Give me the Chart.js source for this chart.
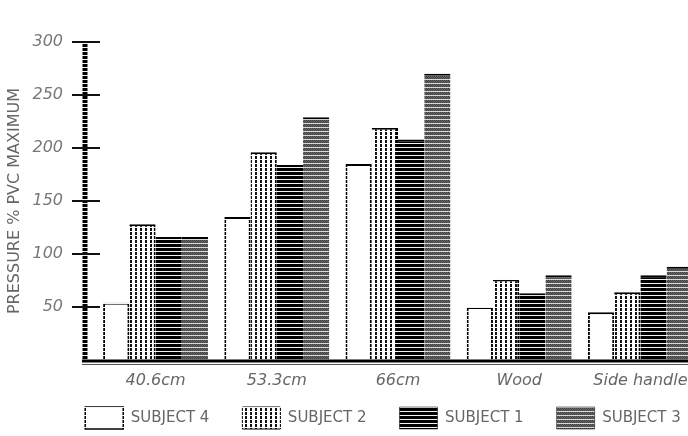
<!DOCTYPE html>
<html>
<head>
<meta charset="utf-8">
<script src="https://cdn.jsdelivr.net/npm/chart.js@4.4.1/dist/chart.umd.min.js"></script>
<style>
html, body { margin: 0; padding: 0; background: #fff; overflow: hidden; width: 688px; height: 436px; }
canvas { display: block; }
</style>
</head>
<body>
<canvas id="grafico" width="766" height="436"></canvas>
<script>
// datos
const categorias = ['40.6cm', '53.3cm', '66cm', 'Wood', 'Side handle'];
const subject4 = [54, 135, 185, 50, 45];
const subject2 = [128, 196, 219, 76, 64];
const subject1 = [116, 184, 208, 63, 80];
const subject3 = [116, 229, 270, 80, 88];
const ticksY = [0, 50, 100, 150, 200, 250, 300];

const ctxPrincipal = document.getElementById('grafico').getContext('2d');

// texturas tipo escaneo (líneas horizontales blancas cada 4px)
function patron(w, h, dibujar) {
    const c = document.createElement('canvas');
    c.width = w; c.height = h;
    dibujar(c.getContext('2d'));
    return ctxPrincipal.createPattern(c, 'repeat');
}

const rayasNegro = patron(1, 4, g => {
    g.fillStyle = '#000'; g.fillRect(0, 0, 1, 3);
    g.fillStyle = '#f2f2f2'; g.fillRect(0, 3, 1, 1);
});

const rayasVerticales = patron(5, 4, g => {
    g.fillStyle = '#fff'; g.fillRect(0, 0, 5, 4);
    g.fillStyle = '#111'; g.fillRect(0, 0, 2, 3);
});

const rayasGris = patron(2, 4, g => {
    const filas = [['#3c3c3c', '#6a6a6a'], ['#666', '#404040'], ['#4a4a4a', '#5e5e5e'], ['#cfcfcf', '#e0e0e0']];
    filas.forEach((f, i) => f.forEach((col, j) => { g.fillStyle = col; g.fillRect(j, i, 1, 1); }));
});

// eje vertical grueso, marcas y línea base
const ejes = {
    id: 'ejes',
    afterDraw(chart) {
        const { ctx, chartArea, scales: { y } } = chart;
        const x0 = chartArea.left - 10;
        const y0 = y.getPixelForValue(0);
        ctx.save();
        ctx.strokeStyle = rayasNegro;
        ctx.lineWidth = 5;
        ctx.beginPath();
        ctx.moveTo(x0, y.getPixelForValue(300));
        ctx.lineTo(x0, y0 + 2);
        ctx.stroke();

        ctx.strokeStyle = '#111';
        ctx.lineWidth = 2;
        ticksY.forEach(v => {
            if (v === 0) return;
            const py = y.getPixelForValue(v);
            ctx.beginPath();
            ctx.moveTo(x0 - 13, py);
            ctx.lineTo(x0 + 15, py);
            ctx.stroke();
        });

        ctx.strokeStyle = '#000';
        ctx.lineWidth = 3;
        ctx.beginPath();
        ctx.moveTo(x0 - 3, y0 + 1);
        ctx.lineTo(chart.width, y0 + 1);
        ctx.stroke();
        ctx.strokeStyle = '#555';
        ctx.lineWidth = 1;
        ctx.beginPath();
        ctx.moveTo(x0 - 3, y0 + 4.5);
        ctx.lineTo(chart.width, y0 + 4.5);
        ctx.stroke();
        ctx.restore();
    }
};

new Chart(ctxPrincipal, {
    type: 'bar',
    data: {
        labels: categorias,
        datasets: [
            { label: 'SUBJECT 4', data: subject4, backgroundColor: '#fff', borderColor: rayasNegro, borderWidth: { top: 2, left: 2, right: 2, bottom: 0 }, borderSkipped: false },
            { label: 'SUBJECT 2', data: subject2, backgroundColor: rayasVerticales, borderColor: rayasNegro, borderWidth: { top: 2, left: 0, right: 2, bottom: 0 }, borderSkipped: false },
            { label: 'SUBJECT 1', data: subject1, backgroundColor: rayasNegro, borderColor: '#000', borderWidth: { top: 2, left: 0, right: 0, bottom: 0 }, borderSkipped: false },
            { label: 'SUBJECT 3', data: subject3, backgroundColor: rayasGris, borderColor: '#000', borderWidth: { top: 2, left: 0, right: 0, bottom: 0 }, borderSkipped: false }
        ]
    },
    options: {
        responsive: false,
        animation: false,
        layout: { padding: { top: 42, bottom: -3, left: 0, right: 0 } },
        datasets: { bar: { barPercentage: 1, categoryPercentage: 0.866 } },
        plugins: {
            tooltip: { enabled: false },
            legend: {
                position: 'bottom',
                labels: {
                    boxWidth: 38,
                    boxHeight: 22,
                    padding: 33,
                    color: '#666',
                    font: { family: 'DejaVu Sans', size: 15 }
                }
            }
        },
        scales: {
            x: {
                grid: { display: false },
                border: { display: false },
                ticks: {
                    color: '#666',
                    // mirror evita el recorte de las etiquetas; el padding negativo las baja bajo el eje
                    mirror: true,
                    padding: -30,
                    maxRotation: 0,
                    autoSkip: false,
                    font: { family: 'DejaVu Sans', size: 16, style: 'italic' }
                },
                afterFit(s) { s.height = 14; }
            },
            y: {
                min: 0,
                max: 300,
                grid: { display: false, drawTicks: false },
                border: { display: false },
                afterBuildTicks(s) { s.ticks = ticksY.map(v => ({ value: v })); },
                ticks: {
                    color: '#777',
                    padding: 32,
                    callback: v => v === 0 ? '' : v,
                    font: { family: 'DejaVu Sans', size: 16, style: 'italic' }
                },
                title: {
                    display: true,
                    text: 'PRESSURE % PVC MAXIMUM',
                    color: '#666',
                    padding: { top: 5, bottom: 0 },
                    font: { family: 'DejaVu Sans', size: 16 }
                },
                afterFit(s) { s.width = 95; }
            },
            relleno: {
                type: 'linear',
                position: 'right',
                grid: { display: false },
                border: { display: false },
                ticks: { display: false },
                afterFit(s) { s.width = 65; }
            }
        }
    },
    plugins: [ejes]
});
</script>
</body>
</html>
